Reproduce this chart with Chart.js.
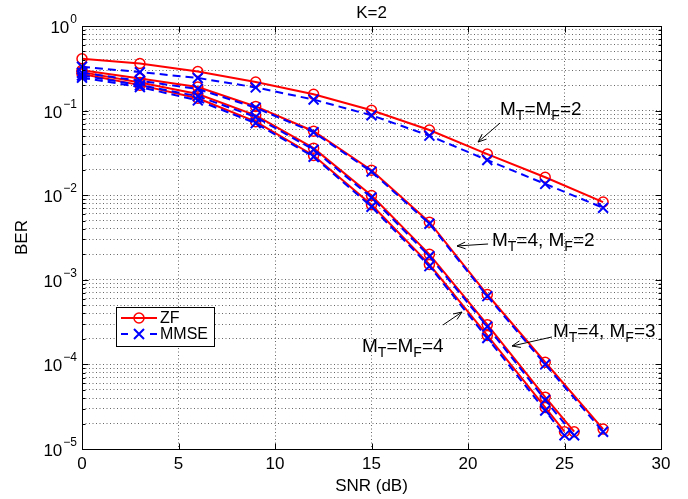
<!DOCTYPE html>
<html lang="en">
<head>
<meta charset="UTF-8">
<title>K=2</title>
<script src="https://cdn.jsdelivr.net/npm/chart.js"></script>
<style>
  html, body { margin: 0; padding: 0; background: #fff; }
  canvas { display: block; }
</style>
</head>
<body>
<canvas id="ber" width="688" height="499"></canvas>
<script>
// SNR points (dB)
const snr   = [0, 3, 6, 9, 12, 15, 18, 21, 24, 27];
const snr43 = [0, 3, 6, 9, 12, 15, 18, 21, 24, 25.5];
const snr44 = [0, 3, 6, 9, 12, 15, 18, 21, 24, 25];

// BER values
const zf22   = [0.41, 0.36, 0.29, 0.218, 0.156, 0.101, 0.059, 0.0306, 0.0163, 0.0083];
const mmse22 = [0.33, 0.285, 0.243, 0.188, 0.135, 0.088, 0.0505, 0.026, 0.0136, 0.0071];
const zf42   = [0.30, 0.24, 0.19, 0.112, 0.057, 0.0197, 0.0048, 6.7e-4, 1.06e-4, 1.72e-5];
const mmse42 = [0.28, 0.225, 0.18, 0.108, 0.0555, 0.019, 0.0046, 6.4e-4, 1.0e-4, 1.6e-5];
const zf43   = [0.285, 0.215, 0.157, 0.088, 0.036, 0.0099, 2.0e-3, 2.95e-4, 4.1e-5, 1.6e-5];
const mmse43 = [0.26, 0.20, 0.148, 0.084, 0.0345, 0.0094, 1.9e-3, 2.8e-4, 3.8e-5, 1.45e-5];
const zf44   = [0.27, 0.20, 0.14, 0.074, 0.0295, 0.0077, 1.52e-3, 2.2e-4, 3.1e-5, 1.6e-5];
const mmse44 = [0.245, 0.19, 0.132, 0.071, 0.0285, 0.0073, 1.45e-3, 2.05e-4, 2.85e-5, 1.45e-5];

// axes
const xTicks = [0, 5, 10, 15, 20, 25, 30];
const yDecades = [1e-5, 1e-4, 1e-3, 1e-2, 1e-1, 1];
const yDecadeExp = ['\u22125', '\u22124', '\u22123', '\u22122', '\u22121', '0'];
const yMinor = [2, 3, 4, 5, 6, 7, 8, 9];

// text labels with arrows, in data units ('_' = next char is subscript)
const notes = [
  { text: 'M_T=M_F=2',    at: [21.66, 0.107],  from: [21.66, 0.0713], to: [20.52, 0.0425] },
  { text: 'M_T=4, M_F=2', at: [21.24, 3.0e-3], from: [21.04, 2.65e-3], to: [19.43, 2.51e-3] },
  { text: 'M_T=4, M_F=3', at: [24.40, 2.55e-4], from: [24.35, 2.11e-4], to: [22.28, 1.65e-4] },
  { text: 'M_T=M_F=4',    at: [14.51, 1.69e-4], from: [18.70, 2.92e-4], to: [19.69, 4.16e-4] }
];

const FONT = '"Liberation Sans", Arial, Helvetica, sans-serif';
const RED = '#ff0000', BLUE = '#0000ff';
const GRID = 'rgba(0,0,0,0.6)';

let yGridValues = [];
yDecades.forEach((d, i) => {
  yGridValues.push(d);
  if (i < yDecades.length - 1) yMinor.forEach(m => yGridValues.push(m * d));
});

function pts(xs, ys) { return xs.map((x, i) => ({ x: x, y: ys[i] })); }

function zf(xs, ys) {
  return {
    label: 'ZF', data: pts(xs, ys),
    borderColor: RED, borderWidth: 2, tension: 0,
    pointStyle: 'circle', pointRadius: 5, pointBorderWidth: 1.5,
    pointBorderColor: RED, pointBackgroundColor: 'rgba(0,0,0,0)', clip: false
  };
}
function mmse(xs, ys) {
  return {
    label: 'MMSE', data: pts(xs, ys),
    borderColor: BLUE, borderWidth: 2, borderDash: [8, 5], tension: 0,
    pointStyle: 'crossRot', pointRadius: 7, pointBorderWidth: 2,
    pointBorderColor: BLUE, pointBackgroundColor: BLUE, clip: false
  };
}

function drawRich(ctx, text, x, y, size) {
  let cx = x;
  for (let i = 0; i < text.length; i++) {
    let ch = text[i], sub = false;
    if (ch === '_') { sub = true; ch = text[++i]; }
    ctx.font = (sub ? 14 : size) + 'px ' + FONT;
    ctx.fillText(ch, cx, sub ? y + 5 : y);
    cx += ctx.measureText(ch).width;
  }
}

function drawArrow(ctx, x1, y1, x2, y2) {
  const ang = Math.atan2(y2 - y1, x2 - x1), len = 9, spread = 0.38;
  ctx.beginPath();
  ctx.moveTo(x1, y1); ctx.lineTo(x2, y2);
  ctx.moveTo(x2 - len * Math.cos(ang - spread), y2 - len * Math.sin(ang - spread));
  ctx.lineTo(x2, y2);
  ctx.lineTo(x2 - len * Math.cos(ang + spread), y2 - len * Math.sin(ang + spread));
  ctx.stroke();
}

const decorations = {
  id: 'decorations',
  afterDraw(chart) {
    const { ctx, chartArea: a, scales: { x, y } } = chart;
    const L = Math.round(a.left) + 0.5, R = Math.round(a.right) + 0.5;
    const T = Math.round(a.top) + 0.5, B = Math.round(a.bottom) + 0.5;
    ctx.save();
    ctx.setLineDash([]);
    ctx.strokeStyle = '#000';
    ctx.lineWidth = 1;
    ctx.strokeRect(L, T, R - L, B - T);

    // inward tick marks
    ctx.beginPath();
    xTicks.forEach(v => {
      const px = Math.round(x.getPixelForValue(v)) + 0.5;
      ctx.moveTo(px, B); ctx.lineTo(px, B - 6);
      ctx.moveTo(px, T); ctx.lineTo(px, T + 6);
    });
    yGridValues.forEach(v => {
      const py = Math.round(y.getPixelForValue(v)) + 0.5;
      const len = yDecades.includes(v) ? 6 : 3;
      ctx.moveTo(L, py); ctx.lineTo(L + len, py);
      ctx.moveTo(R, py); ctx.lineTo(R - len, py);
    });
    ctx.stroke();

    // y tick labels 10^n
    ctx.fillStyle = '#000';
    ctx.textBaseline = 'alphabetic';
    ctx.textAlign = 'left';
    yDecades.forEach((d, i) => {
      const py = y.getPixelForValue(d);
      ctx.font = '12px ' + FONT;
      const ew = ctx.measureText(yDecadeExp[i]).width;
      ctx.font = '17px ' + FONT;
      const bw = ctx.measureText('10').width;
      const right = a.left - 5;
      ctx.fillText('10', right - ew - bw - 1, py + 7);
      ctx.font = '12px ' + FONT;
      ctx.fillText(yDecadeExp[i], right - ew, py - 3);
    });

    // title
    ctx.font = '17px ' + FONT;
    ctx.textAlign = 'center';
    ctx.textBaseline = 'middle';
    ctx.fillText('K=2', (a.left + a.right) / 2, 13);

    // legend
    const lx = a.left + 34, ly = a.top + 281;
    ctx.fillStyle = '#fff';
    ctx.fillRect(lx, ly, 98, 39);
    ctx.strokeStyle = '#000';
    ctx.strokeRect(Math.round(lx) + 0.5, Math.round(ly) + 0.5, 98, 39);
    const r1 = ly + 11, r2 = ly + 27, s0 = lx + 5, s1 = lx + 41, mx = lx + 23;
    ctx.lineWidth = 2;
    ctx.strokeStyle = RED;
    ctx.beginPath(); ctx.moveTo(s0, r1); ctx.lineTo(s1, r1); ctx.stroke();
    ctx.lineWidth = 1.5;
    ctx.beginPath(); ctx.arc(mx, r1, 5, 0, Math.PI * 2); ctx.stroke();
    ctx.strokeStyle = BLUE;
    ctx.lineWidth = 2;
    ctx.beginPath();
    ctx.moveTo(s0, r2); ctx.lineTo(s0 + 7, r2);
    ctx.moveTo(s1 - 7, r2); ctx.lineTo(s1, r2);
    ctx.moveTo(mx - 5, r2 - 5); ctx.lineTo(mx + 5, r2 + 5);
    ctx.moveTo(mx + 5, r2 - 5); ctx.lineTo(mx - 5, r2 + 5);
    ctx.stroke();
    ctx.fillStyle = '#000';
    ctx.font = '16px ' + FONT;
    ctx.textAlign = 'left';
    ctx.fillText('ZF', lx + 44, r1 + 1);
    ctx.fillText('MMSE', lx + 44, r2 + 1);

    // annotations
    ctx.textBaseline = 'alphabetic';
    ctx.strokeStyle = '#000';
    ctx.lineWidth = 1;
    notes.forEach(n => {
      drawRich(ctx, n.text, x.getPixelForValue(n.at[0]), y.getPixelForValue(n.at[1]) + 7, 19);
      drawArrow(ctx,
        x.getPixelForValue(n.from[0]), y.getPixelForValue(n.from[1]),
        x.getPixelForValue(n.to[0]), y.getPixelForValue(n.to[1]));
    });
    ctx.restore();
  }
};

Chart.defaults.font.family = FONT;
Chart.defaults.font.size = 17;
Chart.defaults.color = '#000';

new Chart(document.getElementById('ber').getContext('2d'), {
  type: 'line',
  data: {
    datasets: [
      mmse(snr, mmse22), mmse(snr, mmse42), mmse(snr43, mmse43), mmse(snr44, mmse44),
      zf(snr, zf22), zf(snr, zf42), zf(snr43, zf43), zf(snr44, zf44)
    ]
  },
  options: {
    responsive: false,
    animation: false,
    events: [],
    layout: { padding: { left: 0, right: 27, top: 26, bottom: 0 } },
    plugins: { legend: { display: false }, tooltip: { enabled: false } },
    scales: {
      x: {
        type: 'linear', min: 0, max: 30,
        afterBuildTicks: s => { s.ticks = xTicks.map(v => ({ value: v })); },
        afterFit: s => { s.height = 50; },
        ticks: { padding: 5, font: { size: 17 } },
        grid: { color: GRID, lineWidth: 1, drawTicks: false },
        border: { display: false, dash: [1, 2.5] },
        title: { display: true, text: 'SNR (dB)', font: { size: 17 }, padding: { top: 0, bottom: 2 } }
      },
      y: {
        type: 'logarithmic', min: 1e-5, max: 1,
        afterBuildTicks: s => { s.ticks = yGridValues.map(v => ({ value: v })); },
        afterFit: s => { s.width = 82; },
        ticks: { display: false },
        grid: { color: GRID, lineWidth: 1, drawTicks: false },
        border: { display: false, dash: [1, 2.5] },
        title: { display: true, text: 'BER', font: { size: 17 }, padding: { top: 12, bottom: 0 } }
      }
    }
  },
  plugins: [decorations]
});
</script>
</body>
</html>
